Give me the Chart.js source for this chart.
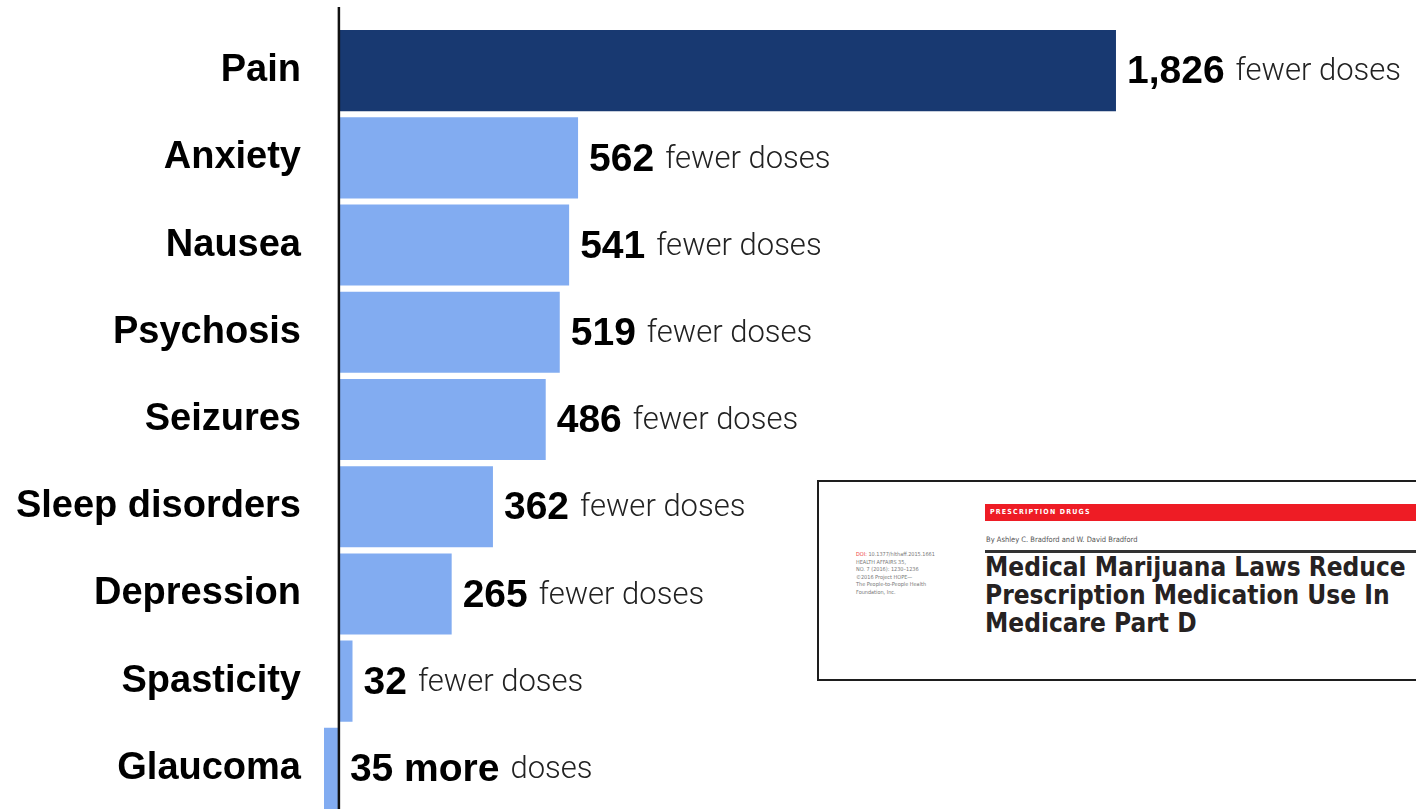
<!DOCTYPE html>
<html>
<head>
<meta charset="utf-8">
<script src="https://cdn.jsdelivr.net/npm/chart.js@4"></script>
<style>
  html, body { margin: 0; padding: 0; background: #fff; overflow: hidden; }
  #wrap { position: relative; width: 1416px; height: 812px; }
  #inset {
    position: absolute; left: 817px; top: 480px; width: 620px; height: 197px;
    border: 2px solid #1e1e1e; background: #fff; overflow: hidden;
    font-family: "DejaVu Sans Condensed", "DejaVu Sans", sans-serif;
  }
  #inset .red {
    position: absolute; left: 166px; top: 22px; width: 460px; height: 17px;
    background: #ee1c25; color: #fff; font-size: 7px; font-weight: bold;
    letter-spacing: 1.2px; line-height: 17px; padding-left: 5px;
  }
  #inset .by {
    position: absolute; left: 167px; top: 53px; font-size: 7.5px; color: #555; white-space: nowrap;
  }
  #inset .rule {
    position: absolute; left: 166px; top: 68px; width: 460px; height: 3px; background: #333;
  }
  #inset .title {
    position: absolute; left: 166px; top: 71px; font-size: 26px; font-weight: bold;
    line-height: 28px; color: #262222; white-space: nowrap;
  }
  #inset .side {
    position: absolute; left: 37px; top: 69px; font-size: 5.5px; line-height: 7.6px; color: #777;
    white-space: nowrap;
  }
  #inset .side b { color: #e33; font-weight: normal; }
</style>
</head>
<body>
<div id="wrap">
  <canvas id="barChart"></canvas>
  <div id="inset">
    <div class="side"><b>DOI:</b> 10.1377/hlthaff.2015.1661<br>HEALTH AFFAIRS 35,<br>NO. 7 (2016): 1230–1236<br>©2016 Project HOPE—<br>The People-to-People Health<br>Foundation, Inc.</div>
    <div class="red">PRESCRIPTION DRUGS</div>
    <div class="by">By Ashley C. Bradford and W. David Bradford</div>
    <div class="rule"></div>
    <div class="title">Medical Marijuana Laws Reduce<br>Prescription Medication Use In<br>Medicare Part D</div>
  </div>
</div>
<script>
// conditions and change in daily doses (positive = fewer doses)
const conditions = ["Pain", "Anxiety", "Nausea", "Psychosis", "Seizures", "Sleep disorders", "Depression", "Spasticity", "Glaucoma"];
const doseChange = [1826, 562, 541, 519, 486, 362, 265, 32, -35];
const valueLabels = ["1,826", "562", "541", "519", "486", "362", "265", "32", "35 more"];
const suffixLabels = ["fewer doses", "fewer doses", "fewer doses", "fewer doses", "fewer doses", "fewer doses", "fewer doses", "fewer doses", "doses"];

const darkBlue = 'rgb(24, 57, 113)';
const lightBlue = 'rgb(130, 172, 241)';
const barColors = doseChange.map((v, i) => i === 0 ? darkBlue : lightBlue);

// zero line + value labels
const labelPlugin = {
    id: 'valueLabels',
    afterDatasetsDraw(chart) {
        const ctx = chart.ctx;
        const xScale = chart.scales.x;
        const zeroX = xScale.getPixelForValue(0);

        ctx.save();
        ctx.strokeStyle = '#111';
        ctx.lineWidth = 2.5;
        ctx.beginPath();
        ctx.moveTo(zeroX, 7);
        ctx.lineTo(zeroX, chart.height);
        ctx.stroke();

        const meta = chart.getDatasetMeta(0);
        meta.data.forEach((bar, i) => {
            let x = Math.max(bar.x, zeroX) + 11;
            const y = bar.y + 2;
            ctx.textBaseline = 'middle';
            ctx.textAlign = 'left';
            ctx.fillStyle = '#000';
            ctx.font = 'bold 39px "Liberation Sans", Arial, sans-serif';
            ctx.fillText(valueLabels[i], x, y);
            x += ctx.measureText(valueLabels[i]).width + 11;
            ctx.fillStyle = '#222';
            ctx.font = '300 31px Roboto, "Liberation Sans", sans-serif';
            ctx.fillText(suffixLabels[i], x, y);
        });
        ctx.restore();
    }
};

const ctx = document.getElementById('barChart').getContext('2d');
const myBarChart = new Chart(ctx, {
    type: 'bar',
    data: {
        labels: conditions,
        datasets: [{
            data: doseChange,
            backgroundColor: barColors,
            borderWidth: 0,
            barPercentage: 0.93,
            categoryPercentage: 1
        }]
    },
    options: {
        indexAxis: 'y',
        responsive: true,
        maintainAspectRatio: false,
        animation: false,
        layout: { padding: { top: 27, bottom: 0, left: 0, right: 0 } },
        plugins: {
            legend: { display: false },
            tooltip: { enabled: false }
        },
        scales: {
            x: {
                display: false,
                min: -35,
                max: 2531
            },
            y: {
                afterFit(scale) {
                    scale.width = 324;
                    scale.paddingTop = 0;
                    scale.paddingBottom = 0;
                },
                grid: { display: false, drawTicks: false },
                border: { display: false },
                ticks: {
                    padding: 23,
                    color: '#000',
                    font: { family: '"Liberation Sans", Arial, sans-serif', size: 38, weight: 'bold' }
                }
            }
        }
    },
    plugins: [labelPlugin]
});
</script>
</body>
</html>
